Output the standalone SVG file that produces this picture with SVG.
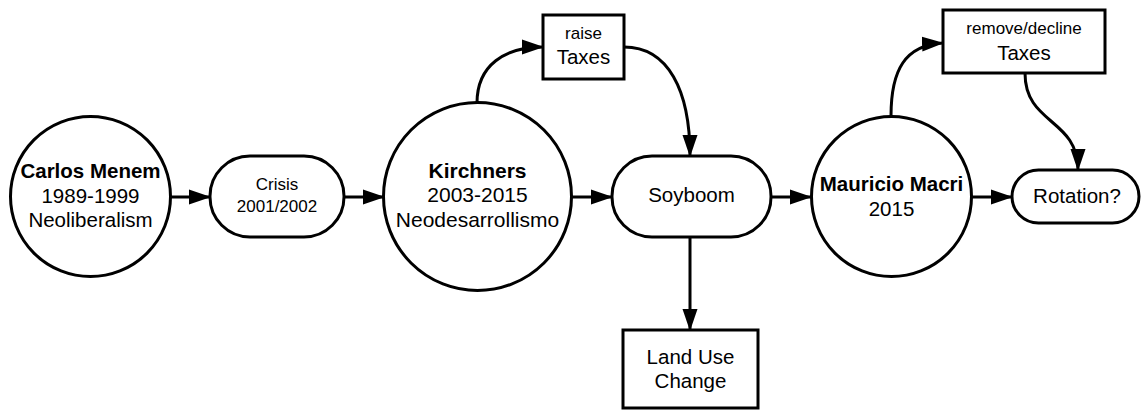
<svg xmlns="http://www.w3.org/2000/svg" width="1141" height="410" viewBox="0 0 1141 410">
<style>
.n{fill:#fff;stroke:#000;stroke-width:3}
.c{fill:none;stroke:#000;stroke-width:3}
text{font-family:"Liberation Sans",Arial,sans-serif;fill:#000;text-anchor:middle;dominant-baseline:central;font-size:20.5px}
.b{font-weight:bold}
.s{font-size:17px}
</style>
<defs>
<marker id="ah" markerUnits="userSpaceOnUse" markerWidth="22" markerHeight="16" refX="21" refY="8" orient="auto">
<path d="M0,0.5 L22,8 L0,15.5 z" fill="#000"/>
</marker>
</defs>
<rect width="1141" height="410" fill="#fff"/>
<g id="connectors">
<path class="c" d="M171,197 L210,197" marker-end="url(#ah)"/>
<path class="c" d="M344,197 L384,197" marker-end="url(#ah)"/>
<path class="c" d="M572,197 L612,197" marker-end="url(#ah)"/>
<path class="c" d="M771,197 L811,197" marker-end="url(#ah)"/>
<path class="c" d="M972,197 L1012,197" marker-end="url(#ah)"/>
<path class="c" d="M690,237 L690,330" marker-end="url(#ah)"/>
<path class="c" d="M477,103 C477,65 505,47 543,47" marker-end="url(#ah)"/>
<path class="c" d="M624,47 C668,47 690,90 690,156" marker-end="url(#ah)"/>
<path class="c" d="M891,116 C891,70 905,45 943,43" marker-end="url(#ah)"/>
<path class="c" d="M1025,73 C1025,125 1078,118 1078,170" marker-end="url(#ah)"/>
</g>
<g id="menem">
<circle class="n" cx="90.5" cy="196.5" r="80"/>
<text x="90.5" y="170" class="b">Carlos Menem</text>
<text x="90.5" y="195">1989-1999</text>
<text x="90.5" y="219">Neoliberalism</text>
</g>
<g id="crisis">
<rect class="n" x="210" y="156" width="134" height="81" rx="40" ry="40"/>
<text x="277" y="184" class="s">Crisis</text>
<text x="277" y="206" class="s">2001/2002</text>
</g>
<g id="kirchners">
<circle class="n" cx="477.5" cy="196.5" r="94"/>
<text x="477.5" y="170" class="b" style="font-size:21px">Kirchners</text>
<text x="477.5" y="194" style="font-size:21px">2003-2015</text>
<text x="477.5" y="219" style="font-size:21px">Neodesarrollismo</text>
</g>
<g id="raise">
<rect class="n" x="543" y="15" width="81" height="64"/>
<text x="583.5" y="33" class="s">raise</text>
<text x="583.5" y="56">Taxes</text>
</g>
<g id="soyboom">
<rect class="n" x="612" y="156" width="159" height="81" rx="40" ry="40"/>
<text x="691.5" y="194">Soyboom</text>
</g>
<g id="landuse">
<rect class="n" x="623" y="330" width="135" height="78"/>
<text x="690.5" y="356">Land Use</text>
<text x="690.5" y="380">Change</text>
</g>
<g id="macri">
<circle class="n" cx="891.5" cy="196.5" r="80"/>
<text x="891.5" y="183" class="b">Mauricio Macri</text>
<text x="891.5" y="208">2015</text>
</g>
<g id="remove">
<rect class="n" x="943" y="10" width="162" height="63"/>
<text x="1024" y="28" class="s">remove/decline</text>
<text x="1024" y="52">Taxes</text>
</g>
<g id="rotation">
<rect class="n" x="1012" y="170" width="127" height="53" rx="26.5" ry="26.5"/>
<text x="1077" y="195">Rotation?</text>
</g>
</svg>
